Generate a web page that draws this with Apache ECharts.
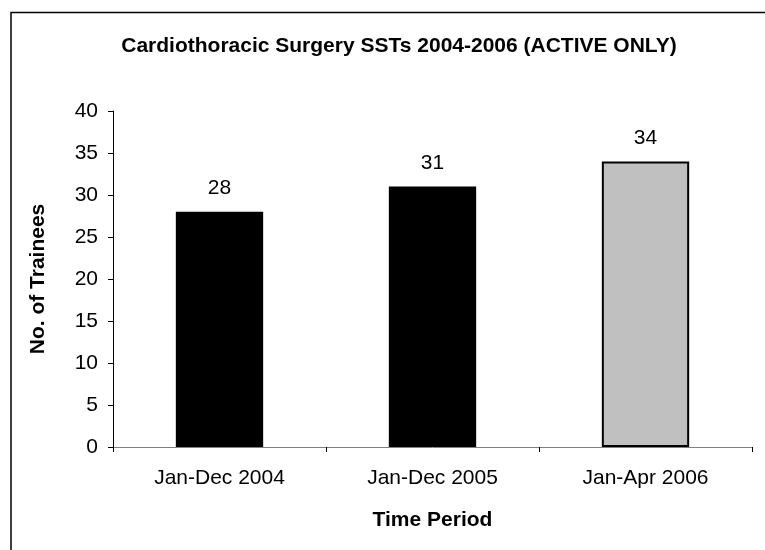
<!DOCTYPE html>
<html><head><meta charset="utf-8">
<script src="https://cdn.jsdelivr.net/npm/echarts@6/dist/echarts.min.js"></script>
<style>html,body{margin:0;padding:0;background:#fff}#c{width:765px;height:550px}</style>
</head><body><div id="c"></div>
<script>
const categories = ["Jan-Dec 2004", "Jan-Dec 2005", "Jan-Apr 2006"];
const values = [28, 31, 34];
const barColors = ["#000000", "#000000", "#C0C0C0"];
const chartTitle = "Cardiothoracic Surgery SSTs 2004-2006 (ACTIVE ONLY)";
const xName = "Time Period";
const yName = "No. of Trainees";

const FONT = "Liberation Sans, Arial, sans-serif";
const chart = echarts.init(document.getElementById('c'), null, {renderer: 'canvas'});
chart.setOption({
  animation: false,
  backgroundColor: '#fff',
  graphic: [
    {type: 'polyline', shape: {points: [[11, 560], [11, 12.5], [775, 12.5]]},
     style: {stroke: '#000', lineWidth: 1.5, fill: null}}
  ],
  title: {
    text: chartTitle, left: 394, top: 31, textAlign: 'center',
    textStyle: {fontFamily: FONT, fontSize: 21, fontWeight: 'bold', color: '#000'}
  },
  grid: {left: 113, right: 13, top: 111, bottom: 103, containLabel: false},
  xAxis: {
    type: 'category', data: categories,
    name: xName, nameLocation: 'middle', nameGap: 63,
    nameTextStyle: {fontFamily: FONT, fontSize: 21, fontWeight: 'bold', color: '#000'},
    axisLine: {lineStyle: {color: '#808080', width: 1}},
    axisTick: {show: true, alignWithLabel: false, length: 5, lineStyle: {color: '#000'}},
    axisLabel: {fontFamily: FONT, fontSize: 21, color: '#000', margin: 21}
  },
  yAxis: {
    type: 'value', min: 0, max: 40, interval: 5,
    name: yName, nameLocation: 'middle', nameGap: 64, nameRotate: 90,
    nameTextStyle: {fontFamily: FONT, fontSize: 21, fontWeight: 'bold', color: '#000'},
    axisLine: {show: true, lineStyle: {color: '#000', width: 1}},
    axisTick: {show: true, length: 5, lineStyle: {color: '#000'}},
    axisLabel: {fontFamily: FONT, fontSize: 21, color: '#000', margin: 15},
    splitLine: {show: false}
  },
  series: [{
    type: 'bar', barWidth: '41%',
    data: values.map((v, i) => ({value: v, itemStyle: {color: barColors[i], borderColor: '#000', borderWidth: 2}})),
    label: {show: true, position: 'top', distance: 13, fontFamily: FONT, fontSize: 21, color: '#000'}
  }]
});
</script></body></html>
